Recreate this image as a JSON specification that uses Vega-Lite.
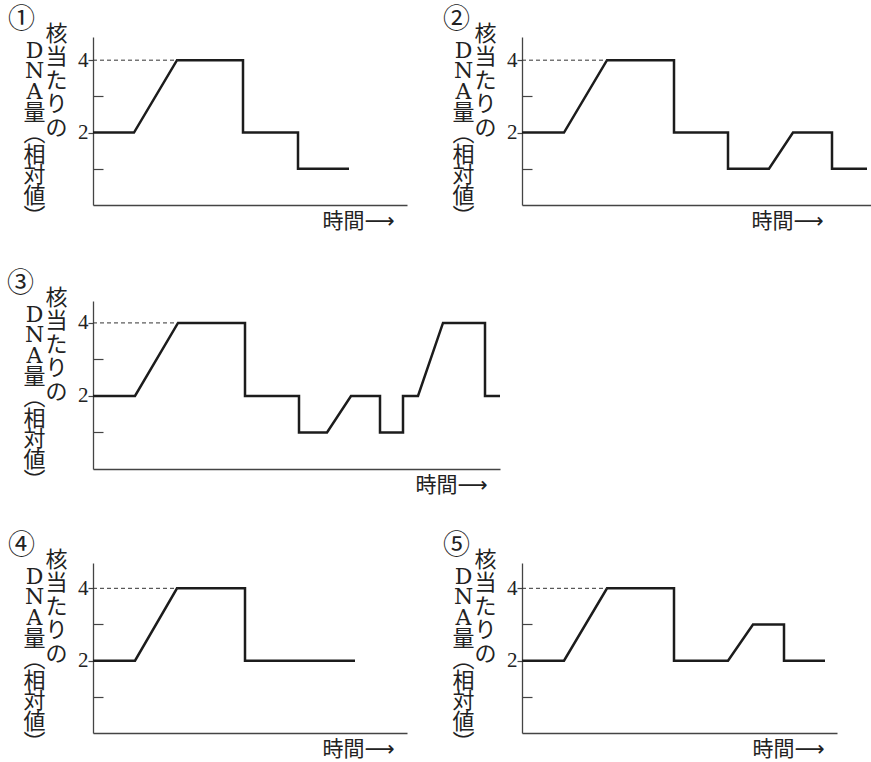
{
  "$schema": "https://vega.github.io/schema/vega-lite/v6.json",
  "background": "white",
  "padding": {"left": 7, "top": 6, "right": 0, "bottom": 0},
  "datasets": {
    "p1": [
      {"i": 0, "t": 0, "dna": 2}, {"i": 1, "t": 41, "dna": 2}, {"i": 2, "t": 84, "dna": 4},
      {"i": 3, "t": 150, "dna": 4}, {"i": 4, "t": 150, "dna": 2}, {"i": 5, "t": 205, "dna": 2},
      {"i": 6, "t": 205, "dna": 1}, {"i": 7, "t": 256, "dna": 1}
    ],
    "p2": [
      {"i": 0, "t": 0, "dna": 2}, {"i": 1, "t": 42, "dna": 2}, {"i": 2, "t": 85, "dna": 4},
      {"i": 3, "t": 152, "dna": 4}, {"i": 4, "t": 152, "dna": 2}, {"i": 5, "t": 206, "dna": 2},
      {"i": 6, "t": 206, "dna": 1}, {"i": 7, "t": 247, "dna": 1}, {"i": 8, "t": 271, "dna": 2},
      {"i": 9, "t": 310, "dna": 2}, {"i": 10, "t": 310, "dna": 1}, {"i": 11, "t": 345, "dna": 1}
    ],
    "p3": [
      {"i": 0, "t": 0, "dna": 2}, {"i": 1, "t": 42, "dna": 2}, {"i": 2, "t": 85, "dna": 4},
      {"i": 3, "t": 152, "dna": 4}, {"i": 4, "t": 152, "dna": 2}, {"i": 5, "t": 206, "dna": 2},
      {"i": 6, "t": 206, "dna": 1}, {"i": 7, "t": 234, "dna": 1}, {"i": 8, "t": 258, "dna": 2},
      {"i": 9, "t": 287, "dna": 2}, {"i": 10, "t": 287, "dna": 1}, {"i": 11, "t": 310, "dna": 1},
      {"i": 12, "t": 310, "dna": 2}, {"i": 13, "t": 325, "dna": 2}, {"i": 14, "t": 350, "dna": 4},
      {"i": 15, "t": 392, "dna": 4}, {"i": 16, "t": 392, "dna": 2}, {"i": 17, "t": 407, "dna": 2}
    ],
    "p4": [
      {"i": 0, "t": 0, "dna": 2}, {"i": 1, "t": 42, "dna": 2}, {"i": 2, "t": 84, "dna": 4},
      {"i": 3, "t": 152, "dna": 4}, {"i": 4, "t": 152, "dna": 2}, {"i": 5, "t": 262, "dna": 2}
    ],
    "p5": [
      {"i": 0, "t": 0, "dna": 2}, {"i": 1, "t": 42, "dna": 2}, {"i": 2, "t": 85, "dna": 4},
      {"i": 3, "t": 152, "dna": 4}, {"i": 4, "t": 152, "dna": 2}, {"i": 5, "t": 206, "dna": 2},
      {"i": 6, "t": 231, "dna": 3}, {"i": 7, "t": 262, "dna": 3}, {"i": 8, "t": 262, "dna": 2},
      {"i": 9, "t": 303, "dna": 2}
    ],
    "guide4": [{"t0": 0, "t1": 85, "level": 4}]
  },
  "vconcat": [
    {
      "hconcat": [
        {
          "width": 314, "height": 168,
          "title": {"text": "①", "dx": -85},
          "layer": [
            {
              "data": {"name": "p1"},
              "mark": {"type": "line", "color": "#1c1c1c", "strokeWidth": 2.5, "strokeJoin": "miter"},
              "encoding": {
                "x": {"field": "t", "type": "quantitative", "scale": {"domain": [0, 314], "nice": false, "zero": false},
                      "axis": {"title": "時間⟶", "titleX": 301, "titleY": 22}},
                "y": {"field": "dna", "type": "quantitative", "scale": {"domain": [0, 4.64], "nice": false},
                      "axis": {"orient": "left", "values": [1, 2, 3, 4], "title": ["D", "N", "A", "量", "︵", "相", "対", "値", "︶"], "titleX": -59, "titleY": 20}},
                "order": {"field": "i", "type": "quantitative"}
              }
            },
            {
              "data": {"name": "guide4"},
              "mark": {"type": "rule", "color": "#333333", "strokeWidth": 1, "strokeDash": [4, 3]},
              "encoding": {
                "x": {"field": "t0", "type": "quantitative", "axis": {"title": "時間⟶", "titleX": 301, "titleY": 22}},
                "x2": {"field": "t1"},
                "y": {"field": "level", "type": "quantitative",
                      "axis": {"orient": "left", "domain": false, "ticks": false, "labels": false, "title": ["核", "当", "た", "り", "の"], "titleX": -37, "titleY": 3, "titleLineHeight": 23.5, "titleFont": "Noto Sans CJK JP"}}
              }
            }
          ],
          "resolve": {"axis": {"y": "independent"}}
        },
        {
          "width": 349, "height": 168,
          "title": {"text": "②", "dx": -79},
          "layer": [
            {
              "data": {"name": "p2"},
              "mark": {"type": "line", "color": "#1c1c1c", "strokeWidth": 2.5, "strokeJoin": "miter"},
              "encoding": {
                "x": {"field": "t", "type": "quantitative", "scale": {"domain": [0, 349], "nice": false, "zero": false},
                      "axis": {"title": "時間⟶", "titleX": 301, "titleY": 22}},
                "y": {"field": "dna", "type": "quantitative", "scale": {"domain": [0, 4.64], "nice": false},
                      "axis": {"orient": "left", "values": [1, 2, 3, 4], "title": ["D", "N", "A", "量", "︵", "相", "対", "値", "︶"], "titleX": -59, "titleY": 20}},
                "order": {"field": "i", "type": "quantitative"}
              }
            },
            {
              "data": {"name": "guide4"},
              "mark": {"type": "rule", "color": "#333333", "strokeWidth": 1, "strokeDash": [4, 3]},
              "encoding": {
                "x": {"field": "t0", "type": "quantitative", "axis": {"title": "時間⟶", "titleX": 301, "titleY": 22}},
                "x2": {"field": "t1"},
                "y": {"field": "level", "type": "quantitative",
                      "axis": {"orient": "left", "domain": false, "ticks": false, "labels": false, "title": ["核", "当", "た", "り", "の"], "titleX": -37, "titleY": 3, "titleLineHeight": 23.5, "titleFont": "Noto Sans CJK JP"}}
              }
            }
          ],
          "resolve": {"axis": {"y": "independent"}}
        }
      ],
      "spacing": 36
    },
    {
      "vconcat": [
        {
          "width": 407, "height": 168,
          "title": {"text": "③", "dx": -86},
          "layer": [
            {
              "data": {"name": "p3"},
              "mark": {"type": "line", "color": "#1c1c1c", "strokeWidth": 2.5, "strokeJoin": "miter"},
              "encoding": {
                "x": {"field": "t", "type": "quantitative", "scale": {"domain": [0, 407], "nice": false, "zero": false},
                      "axis": {"title": "時間⟶", "titleX": 394, "titleY": 22}},
                "y": {"field": "dna", "type": "quantitative", "scale": {"domain": [0, 4.6], "nice": false},
                      "axis": {"orient": "left", "values": [1, 2, 3, 4], "title": ["D", "N", "A", "量", "︵", "相", "対", "値", "︶"], "titleX": -59, "titleY": 20}},
                "order": {"field": "i", "type": "quantitative"}
              }
            },
            {
              "data": {"name": "guide4"},
              "mark": {"type": "rule", "color": "#333333", "strokeWidth": 1, "strokeDash": [4, 3]},
              "encoding": {
                "x": {"field": "t0", "type": "quantitative", "axis": {"title": "時間⟶", "titleX": 394, "titleY": 22}},
                "x2": {"field": "t1"},
                "y": {"field": "level", "type": "quantitative",
                      "axis": {"orient": "left", "domain": false, "ticks": false, "labels": false, "title": ["核", "当", "た", "り", "の"], "titleX": -37, "titleY": 3, "titleLineHeight": 23.5, "titleFont": "Noto Sans CJK JP"}}
              }
            }
          ],
          "resolve": {"axis": {"y": "independent"}}
        },
        {
          "hconcat": [
            {
              "width": 314, "height": 170,
              "title": {"text": "④", "dx": -85},
              "layer": [
                {
                  "data": {"name": "p4"},
                  "mark": {"type": "line", "color": "#1c1c1c", "strokeWidth": 2.5, "strokeJoin": "miter"},
                  "encoding": {
                    "x": {"field": "t", "type": "quantitative", "scale": {"domain": [0, 314], "nice": false, "zero": false},
                          "axis": {"title": "時間⟶", "titleX": 301, "titleY": 22}},
                    "y": {"field": "dna", "type": "quantitative", "scale": {"domain": [0, 4.7], "nice": false},
                          "axis": {"orient": "left", "values": [1, 2, 3, 4], "title": ["D", "N", "A", "量", "︵", "相", "対", "値", "︶"], "titleX": -59, "titleY": 20}},
                    "order": {"field": "i", "type": "quantitative"}
                  }
                },
                {
                  "data": {"name": "guide4"},
                  "mark": {"type": "rule", "color": "#333333", "strokeWidth": 1, "strokeDash": [4, 3]},
                  "encoding": {
                    "x": {"field": "t0", "type": "quantitative", "axis": {"title": "時間⟶", "titleX": 301, "titleY": 22}},
                    "x2": {"field": "t1"},
                    "y": {"field": "level", "type": "quantitative",
                          "axis": {"orient": "left", "domain": false, "ticks": false, "labels": false, "title": ["核", "当", "た", "り", "の"], "titleX": -37, "titleY": 3, "titleLineHeight": 23.5, "titleFont": "Noto Sans CJK JP"}}
                  }
                }
              ],
              "resolve": {"axis": {"y": "independent"}}
            },
            {
              "width": 315, "height": 170,
              "title": {"text": "⑤", "dx": -79},
              "layer": [
                {
                  "data": {"name": "p5"},
                  "mark": {"type": "line", "color": "#1c1c1c", "strokeWidth": 2.5, "strokeJoin": "miter"},
                  "encoding": {
                    "x": {"field": "t", "type": "quantitative", "scale": {"domain": [0, 315], "nice": false, "zero": false},
                          "axis": {"title": "時間⟶", "titleX": 302, "titleY": 22}},
                    "y": {"field": "dna", "type": "quantitative", "scale": {"domain": [0, 4.7], "nice": false},
                          "axis": {"orient": "left", "values": [1, 2, 3, 4], "title": ["D", "N", "A", "量", "︵", "相", "対", "値", "︶"], "titleX": -59, "titleY": 20}},
                    "order": {"field": "i", "type": "quantitative"}
                  }
                },
                {
                  "data": {"name": "guide4"},
                  "mark": {"type": "rule", "color": "#333333", "strokeWidth": 1, "strokeDash": [4, 3]},
                  "encoding": {
                    "x": {"field": "t0", "type": "quantitative", "axis": {"title": "時間⟶", "titleX": 302, "titleY": 22}},
                    "x2": {"field": "t1"},
                    "y": {"field": "level", "type": "quantitative",
                          "axis": {"orient": "left", "domain": false, "ticks": false, "labels": false, "title": ["核", "当", "た", "り", "の"], "titleX": -37, "titleY": 3, "titleLineHeight": 23.5, "titleFont": "Noto Sans CJK JP"}}
                  }
                }
              ],
              "resolve": {"axis": {"y": "independent"}}
            }
          ],
          "spacing": 36
        }
      ],
      "spacing": 37
    }
  ],
  "spacing": 39,
  "config": {
    "view": {"stroke": null},
    "title": {
      "anchor": "start", "frame": "group", "dy": 16, "offset": 0,
      "font": "Noto Sans CJK JP", "fontSize": 27, "fontWeight": "normal", "color": "#222222"
    },
    "axis": {
      "grid": false,
      "domainColor": "#444444", "domainWidth": 1.3,
      "titleColor": "#222222", "titleFontWeight": "normal", "titleAngle": 0,
      "titleBaseline": "alphabetic"
    },
    "axisX": {
      "ticks": false, "labels": false,
      "titleAlign": "right", "titleFontSize": 21,
      "titleFont": "Noto Sans CJK JP, DejaVu Sans"
    },
    "axisY": {
      "labelExpr": "datum.value % 2 === 0 ? datum.label : ''",
      "labelFont": "Liberation Serif", "labelFontSize": 21, "labelColor": "#222222",
      "labelPadding": 0, "labelBaseline": "middle",
      "tickColor": "#444444", "tickWidth": 1.2,
      "tickSize": {"condition": {"test": "datum.value % 2 === 1", "value": -10}, "value": 5},
      "titleAlign": "center", "titleFontSize": 22, "titleLineHeight": 20.8,
      "titleFont": "DejaVu Serif, Noto Sans CJK JP"
    }
  }
}
